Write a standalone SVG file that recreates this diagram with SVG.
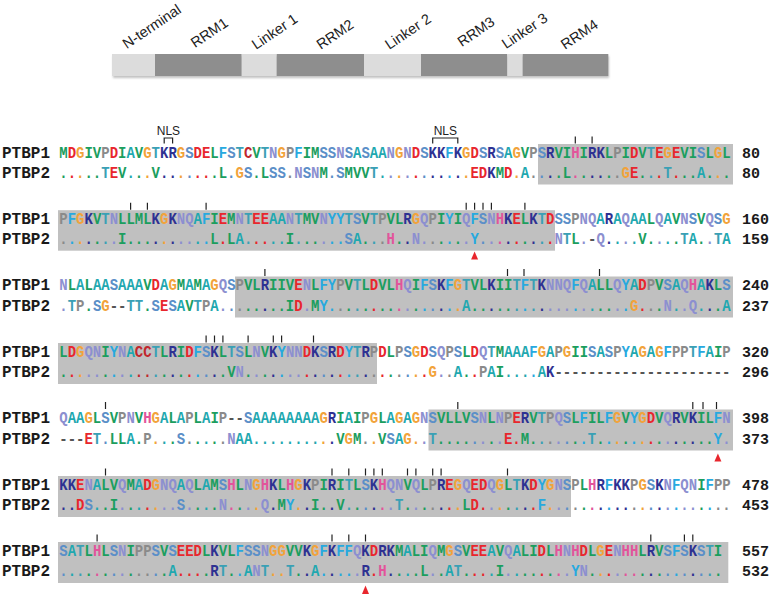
<svg xmlns="http://www.w3.org/2000/svg" width="770" height="595" viewBox="0 0 770 595">
<style>
.seq{font-family:"Liberation Mono","DejaVu Sans Mono",monospace;font-weight:700;font-size:17px}
.lab{font-family:"Liberation Mono","DejaVu Sans Mono",monospace;font-weight:700;font-size:16px;fill:#1a1a1a}
.num{font-family:"Liberation Mono","DejaVu Sans Mono",monospace;font-weight:700;font-size:15px;fill:#1a1a1a}
.dom{font-family:"Liberation Sans",Arial,sans-serif;font-size:14.5px;fill:#222}
.nls{font-family:"Liberation Sans",Arial,sans-serif;font-size:12px;fill:#222;text-anchor:middle}
.box{fill:#c0c0c0}
.tk{stroke:#222;stroke-width:1.2}
.br{fill:none;stroke:#222;stroke-width:1.2}
.ar{fill:#e8262d}
.lt{fill:#dcdcdc}.dk{fill:#8e8e8e}
.h{fill:#1b9e5e}.a{fill:#1fa8b0}.f{fill:#27a9df}.d{fill:#e8262d}.k{fill:#2e3192}.x{fill:#e2549b}.g{fill:#f2a33a}.p{fill:#8a8a8a}.s{fill:#5b8fc8}.t{fill:#3aa0b5}.n{fill:#8c8fd0}.c{fill:#c1272d}.m{fill:#555}
</style>
<defs><filter id="sh" x="-5%" y="-50%" width="110%" height="200%"><feGaussianBlur stdDeviation="1.2"/></filter></defs>

<g id="domain-bar">
<rect x="113" y="56" width="496" height="22" fill="#999" opacity="0.6" filter="url(#sh)"/>
<rect class="lt" x="112" y="54" width="43" height="22"/>
<rect class="dk" x="155" y="54" width="86.7" height="22"/>
<rect class="lt" x="241.7" y="54" width="35" height="22"/>
<rect class="dk" x="276.7" y="54" width="87.3" height="22"/>
<rect class="lt" x="364" y="54" width="57" height="22"/>
<rect class="dk" x="421" y="54" width="86.3" height="22"/>
<rect class="lt" x="507.3" y="54" width="15.4" height="22"/>
<rect class="dk" x="522.7" y="54" width="85.6" height="22"/>
<text class="dom" transform="translate(126.7,49.3) rotate(-34)">N-terminal</text>
<text class="dom" transform="translate(195,48.3) rotate(-34)">RRM1</text>
<text class="dom" transform="translate(256,50) rotate(-34)">Linker 1</text>
<text class="dom" transform="translate(320.7,50) rotate(-34)">RRM2</text>
<text class="dom" transform="translate(389.3,50) rotate(-34)">Linker 2</text>
<text class="dom" transform="translate(461.7,47.3) rotate(-34)">RRM3</text>
<text class="dom" transform="translate(506,49.3) rotate(-34)">Linker 3</text>
<text class="dom" transform="translate(565,50) rotate(-34)">RRM4</text>
</g>

<g id="boxes">
<rect class="box" x="538" y="144" width="195" height="40.5"/>
<rect class="box" x="58" y="210.2" width="497" height="40.5"/>
<rect class="box" x="235" y="276.5" width="498" height="41"/>
<rect class="box" x="58" y="343" width="319" height="41"/>
<rect class="box" x="428.5" y="409.5" width="304.5" height="41"/>
<rect class="box" x="58" y="476" width="513" height="41"/>
<rect class="box" x="58" y="542" width="670.3" height="41"/>
</g>

<g id="connectors">
<path class="br" d="M164.2,143.5V138H172.6V143.5"/>
<path class="br" d="M432.7,143.5V138H457.8V143.5"/>
<g class="tk">
<line x1="575.3" y1="136.5" x2="575.3" y2="143.5"/><line x1="592.1" y1="136.5" x2="592.1" y2="143.5"/>
<line x1="130.6" y1="202.7" x2="130.6" y2="209.7"/><line x1="147.4" y1="202.7" x2="147.4" y2="209.7"/><line x1="206.1" y1="202.7" x2="206.1" y2="209.7"/><line x1="466.2" y1="202.7" x2="466.2" y2="209.7"/><line x1="474.6" y1="202.7" x2="474.6" y2="209.7"/><line x1="483" y1="202.7" x2="483" y2="209.7"/><line x1="491.4" y1="202.7" x2="491.4" y2="209.7"/><line x1="524.9" y1="202.7" x2="524.9" y2="209.7"/>
<line x1="264.9" y1="269" x2="264.9" y2="276"/><line x1="507.5" y1="269" x2="507.5" y2="276"/><line x1="524" y1="269" x2="524" y2="276"/><line x1="599.5" y1="269" x2="599.5" y2="276"/>
<line x1="206.1" y1="335.5" x2="206.1" y2="342.5"/><line x1="214.5" y1="335.5" x2="214.5" y2="342.5"/><line x1="222.9" y1="335.5" x2="222.9" y2="342.5"/><line x1="248.1" y1="335.5" x2="248.1" y2="342.5"/><line x1="273.3" y1="335.5" x2="273.3" y2="342.5"/><line x1="281.6" y1="335.5" x2="281.6" y2="342.5"/><line x1="313.5" y1="335.5" x2="313.5" y2="342.5"/>
<line x1="105.5" y1="402" x2="105.5" y2="409"/><line x1="457.8" y1="402" x2="457.8" y2="409"/><line x1="692.8" y1="402" x2="692.8" y2="409"/><line x1="703" y1="402" x2="703" y2="409"/><line x1="716.5" y1="402" x2="716.5" y2="409"/>
<line x1="105.5" y1="468.5" x2="105.5" y2="475.5"/><line x1="332" y1="468.5" x2="332" y2="475.5"/><line x1="348.8" y1="468.5" x2="348.8" y2="475.5"/><line x1="365.5" y1="468.5" x2="365.5" y2="475.5"/><line x1="373.9" y1="468.5" x2="373.9" y2="475.5"/><line x1="382.3" y1="468.5" x2="382.3" y2="475.5"/><line x1="407.5" y1="468.5" x2="407.5" y2="475.5"/><line x1="415.9" y1="468.5" x2="415.9" y2="475.5"/><line x1="432.7" y1="468.5" x2="432.7" y2="475.5"/><line x1="441.1" y1="468.5" x2="441.1" y2="475.5"/><line x1="507.5" y1="468.5" x2="507.5" y2="475.5"/>
<line x1="97.1" y1="534.5" x2="97.1" y2="541.5"/><line x1="332" y1="534.5" x2="332" y2="541.5"/><line x1="348.8" y1="534.5" x2="348.8" y2="541.5"/><line x1="365.5" y1="534.5" x2="365.5" y2="541.5"/><line x1="650.8" y1="534.5" x2="650.8" y2="541.5"/><line x1="684.4" y1="534.5" x2="684.4" y2="541.5"/><line x1="692.8" y1="534.5" x2="692.8" y2="541.5"/>
</g>
<path class="ar" d="M474.6,251.5L478.1,259.5H471.1Z"/>
<path class="ar" d="M717.9,453.5L721.4,461.5H714.4Z"/>
<path class="ar" d="M365.5,585.5L369,594H362Z"/>
</g>

<g id="nls-labels">
<text class="nls" x="168.4" y="135">NLS</text>
<text class="nls" x="445.3" y="135">NLS</text>
</g>

<g id="labels">
<text class="lab" x="2" y="157.5">PTBP1</text><text class="lab" x="2" y="178">PTBP2</text>
<text class="lab" x="2" y="223.7">PTBP1</text><text class="lab" x="2" y="244.2">PTBP2</text>
<text class="lab" x="2" y="290">PTBP1</text><text class="lab" x="2" y="310.5">PTBP2</text>
<text class="lab" x="2" y="356.5">PTBP1</text><text class="lab" x="2" y="377">PTBP2</text>
<text class="lab" x="2" y="423">PTBP1</text><text class="lab" x="2" y="443.5">PTBP2</text>
<text class="lab" x="2" y="489.5">PTBP1</text><text class="lab" x="2" y="510">PTBP2</text>
<text class="lab" x="2" y="555.5">PTBP1</text><text class="lab" x="2" y="576">PTBP2</text>
</g>

<g id="numbers">
<text class="num" x="742" y="157.5">80</text><text class="num" x="742" y="178">80</text>
<text class="num" x="742" y="223.7">160</text><text class="num" x="742" y="244.2">159</text>
<text class="num" x="742" y="290">240</text><text class="num" x="742" y="310.5">237</text>
<text class="num" x="742" y="356.5">320</text><text class="num" x="742" y="377">296</text>
<text class="num" x="742" y="423">398</text><text class="num" x="742" y="443.5">373</text>
<text class="num" x="742" y="489.5">478</text><text class="num" x="742" y="510">453</text>
<text class="num" x="742" y="555.5">557</text><text class="num" x="742" y="576">532</text>
</g>

<g id="sequences">
<text class="seq" transform="translate(59.3,157.5) scale(0.8225,1)"><tspan class="h">M</tspan><tspan class="d">D</tspan><tspan class="g">G</tspan><tspan class="h">IV</tspan><tspan class="p">P</tspan><tspan class="d">D</tspan><tspan class="h">I</tspan><tspan class="a">A</tspan><tspan class="h">V</tspan><tspan class="g">G</tspan><tspan class="t">T</tspan><tspan class="k">KR</tspan><tspan class="g">G</tspan><tspan class="s">S</tspan><tspan class="d">DE</tspan><tspan class="h">L</tspan><tspan class="f">F</tspan><tspan class="s">S</tspan><tspan class="t">T</tspan><tspan class="c">C</tspan><tspan class="h">V</tspan><tspan class="t">T</tspan><tspan class="n">N</tspan><tspan class="g">G</tspan><tspan class="p">P</tspan><tspan class="f">F</tspan><tspan class="h">IM</tspan><tspan class="s">SS</tspan><tspan class="n">N</tspan><tspan class="s">S</tspan><tspan class="a">A</tspan><tspan class="s">S</tspan><tspan class="a">AA</tspan><tspan class="n">N</tspan><tspan class="g">G</tspan><tspan class="n">N</tspan><tspan class="d">D</tspan><tspan class="s">S</tspan><tspan class="k">KK</tspan><tspan class="f">F</tspan><tspan class="k">K</tspan><tspan class="g">G</tspan><tspan class="d">D</tspan><tspan class="s">S</tspan><tspan class="k">R</tspan><tspan class="s">S</tspan><tspan class="a">A</tspan><tspan class="g">G</tspan><tspan class="h">V</tspan><tspan class="p">P</tspan><tspan class="s">S</tspan><tspan class="k">R</tspan><tspan class="h">VI</tspan><tspan class="x">H</tspan><tspan class="h">I</tspan><tspan class="k">RK</tspan><tspan class="h">L</tspan><tspan class="p">P</tspan><tspan class="h">I</tspan><tspan class="d">D</tspan><tspan class="h">V</tspan><tspan class="t">T</tspan><tspan class="d">E</tspan><tspan class="g">G</tspan><tspan class="d">E</tspan><tspan class="h">VI</tspan><tspan class="s">S</tspan><tspan class="h">L</tspan><tspan class="g">G</tspan><tspan class="h">L</tspan></text>
<text class="seq" transform="translate(59.3,178) scale(0.8225,1)"><tspan class="h">.</tspan><tspan class="d">.</tspan><tspan class="g">.</tspan><tspan class="h">..</tspan><tspan class="t">T</tspan><tspan class="d">E</tspan><tspan class="h">V</tspan><tspan class="a">.</tspan><tspan class="h">.</tspan><tspan class="g">.</tspan><tspan class="h">V</tspan><tspan class="k">..</tspan><tspan class="g">.</tspan><tspan class="s">.</tspan><tspan class="d">..</tspan><tspan class="h">.L</tspan><tspan class="s">.</tspan><tspan class="g">G</tspan><tspan class="s">S</tspan><tspan class="h">.L</tspan><tspan class="s">SS</tspan><tspan class="p">.</tspan><tspan class="n">N</tspan><tspan class="s">S</tspan><tspan class="n">N</tspan><tspan class="h">M</tspan><tspan class="s">.S</tspan><tspan class="h">MVV</tspan><tspan class="t">T</tspan><tspan class="a">.</tspan><tspan class="n">.</tspan><tspan class="g">.</tspan><tspan class="n">.</tspan><tspan class="d">.</tspan><tspan class="s">.</tspan><tspan class="k">..</tspan><tspan class="f">.</tspan><tspan class="k">.</tspan><tspan class="g">.</tspan><tspan class="d">ED</tspan><tspan class="k">K</tspan><tspan class="h">M</tspan><tspan class="d">D</tspan><tspan class="g">.</tspan><tspan class="a">A</tspan><tspan class="p">.</tspan><tspan class="s">.</tspan><tspan class="k">.</tspan><tspan class="h">.L</tspan><tspan class="x">.</tspan><tspan class="h">.</tspan><tspan class="k">..</tspan><tspan class="h">.</tspan><tspan class="p">.</tspan><tspan class="g">G</tspan><tspan class="d">E</tspan><tspan class="h">.</tspan><tspan class="t">.</tspan><tspan class="d">.</tspan><tspan class="t">T</tspan><tspan class="d">.</tspan><tspan class="h">..</tspan><tspan class="a">A</tspan><tspan class="h">.</tspan><tspan class="g">.</tspan><tspan class="h">.</tspan></text>

<text class="seq" transform="translate(59.3,223.7) scale(0.8225,1)"><tspan class="p">P</tspan><tspan class="f">F</tspan><tspan class="g">G</tspan><tspan class="k">K</tspan><tspan class="h">V</tspan><tspan class="t">T</tspan><tspan class="n">N</tspan><tspan class="h">LLML</tspan><tspan class="k">K</tspan><tspan class="g">G</tspan><tspan class="k">K</tspan><tspan class="n">NQ</tspan><tspan class="a">A</tspan><tspan class="f">F</tspan><tspan class="h">I</tspan><tspan class="d">E</tspan><tspan class="h">M</tspan><tspan class="n">N</tspan><tspan class="t">T</tspan><tspan class="d">EE</tspan><tspan class="a">AA</tspan><tspan class="n">N</tspan><tspan class="t">T</tspan><tspan class="h">MV</tspan><tspan class="n">N</tspan><tspan class="f">YY</tspan><tspan class="t">T</tspan><tspan class="s">S</tspan><tspan class="h">V</tspan><tspan class="t">T</tspan><tspan class="p">P</tspan><tspan class="h">VL</tspan><tspan class="k">R</tspan><tspan class="g">G</tspan><tspan class="n">Q</tspan><tspan class="p">P</tspan><tspan class="h">I</tspan><tspan class="f">Y</tspan><tspan class="h">I</tspan><tspan class="n">Q</tspan><tspan class="f">F</tspan><tspan class="s">S</tspan><tspan class="n">N</tspan><tspan class="x">H</tspan><tspan class="k">K</tspan><tspan class="d">E</tspan><tspan class="h">L</tspan><tspan class="k">K</tspan><tspan class="t">T</tspan><tspan class="d">D</tspan><tspan class="s">SS</tspan><tspan class="p">P</tspan><tspan class="n">NQ</tspan><tspan class="a">A</tspan><tspan class="k">R</tspan><tspan class="a">A</tspan><tspan class="n">Q</tspan><tspan class="a">AA</tspan><tspan class="h">L</tspan><tspan class="n">Q</tspan><tspan class="a">A</tspan><tspan class="h">V</tspan><tspan class="n">N</tspan><tspan class="s">S</tspan><tspan class="h">V</tspan><tspan class="n">Q</tspan><tspan class="s">S</tspan><tspan class="g">G</tspan></text>
<text class="seq" transform="translate(59.3,244.2) scale(0.8225,1)"><tspan class="p">.</tspan><tspan class="f">.</tspan><tspan class="g">.</tspan><tspan class="k">.</tspan><tspan class="h">.</tspan><tspan class="t">.</tspan><tspan class="n">.</tspan><tspan class="h">I...</tspan><tspan class="k">.</tspan><tspan class="g">.</tspan><tspan class="k">.</tspan><tspan class="n">..</tspan><tspan class="a">.</tspan><tspan class="f">.</tspan><tspan class="h">L</tspan><tspan class="d">.</tspan><tspan class="h">L</tspan><tspan class="a">A</tspan><tspan class="t">.</tspan><tspan class="d">..</tspan><tspan class="a">..</tspan><tspan class="h">I</tspan><tspan class="t">.</tspan><tspan class="h">..</tspan><tspan class="n">.</tspan><tspan class="f">..</tspan><tspan class="s">S</tspan><tspan class="a">A</tspan><tspan class="h">.</tspan><tspan class="t">.</tspan><tspan class="p">.</tspan><tspan class="x">H</tspan><tspan class="h">.</tspan><tspan class="k">.</tspan><tspan class="n">N.</tspan><tspan class="p">.</tspan><tspan class="h">.</tspan><tspan class="f">.</tspan><tspan class="h">.</tspan><tspan class="n">.</tspan><tspan class="f">Y</tspan><tspan class="s">.</tspan><tspan class="n">.</tspan><tspan class="x">.</tspan><tspan class="k">.</tspan><tspan class="d">.</tspan><tspan class="h">.</tspan><tspan class="k">.</tspan><tspan class="t">.</tspan><tspan class="d">.</tspan><tspan class="n">N</tspan><tspan class="t">T</tspan><tspan class="h">L</tspan><tspan class="n">.</tspan><tspan class="m">-</tspan><tspan class="n">Q</tspan><tspan class="k">.</tspan><tspan class="a">.</tspan><tspan class="n">.</tspan><tspan class="a">.</tspan><tspan class="h">V.</tspan><tspan class="n">.</tspan><tspan class="a">.</tspan><tspan class="h">.</tspan><tspan class="t">T</tspan><tspan class="a">A</tspan><tspan class="h">.</tspan><tspan class="n">.</tspan><tspan class="t">T</tspan><tspan class="a">A</tspan></text>

<text class="seq" transform="translate(59.3,290) scale(0.8225,1)"><tspan class="n">N</tspan><tspan class="h">L</tspan><tspan class="a">A</tspan><tspan class="h">L</tspan><tspan class="a">AA</tspan><tspan class="s">S</tspan><tspan class="a">AAA</tspan><tspan class="h">V</tspan><tspan class="d">D</tspan><tspan class="a">A</tspan><tspan class="g">G</tspan><tspan class="h">M</tspan><tspan class="a">A</tspan><tspan class="h">M</tspan><tspan class="a">A</tspan><tspan class="g">G</tspan><tspan class="n">Q</tspan><tspan class="s">S</tspan><tspan class="p">P</tspan><tspan class="h">VL</tspan><tspan class="k">R</tspan><tspan class="h">IIV</tspan><tspan class="d">E</tspan><tspan class="n">N</tspan><tspan class="h">L</tspan><tspan class="f">FY</tspan><tspan class="p">P</tspan><tspan class="h">V</tspan><tspan class="t">T</tspan><tspan class="h">L</tspan><tspan class="d">D</tspan><tspan class="h">VL</tspan><tspan class="x">H</tspan><tspan class="n">Q</tspan><tspan class="h">I</tspan><tspan class="f">F</tspan><tspan class="s">S</tspan><tspan class="k">K</tspan><tspan class="f">F</tspan><tspan class="g">G</tspan><tspan class="t">T</tspan><tspan class="h">VL</tspan><tspan class="k">K</tspan><tspan class="h">II</tspan><tspan class="t">T</tspan><tspan class="f">F</tspan><tspan class="t">T</tspan><tspan class="k">K</tspan><tspan class="n">NNQ</tspan><tspan class="f">F</tspan><tspan class="n">Q</tspan><tspan class="a">A</tspan><tspan class="h">LL</tspan><tspan class="n">Q</tspan><tspan class="f">Y</tspan><tspan class="a">A</tspan><tspan class="d">D</tspan><tspan class="p">P</tspan><tspan class="h">V</tspan><tspan class="s">S</tspan><tspan class="a">A</tspan><tspan class="n">Q</tspan><tspan class="x">H</tspan><tspan class="a">A</tspan><tspan class="k">K</tspan><tspan class="h">L</tspan><tspan class="s">S</tspan></text>
<text class="seq" transform="translate(59.3,310.5) scale(0.8225,1)"><tspan class="n">.</tspan><tspan class="t">T</tspan><tspan class="p">P</tspan><tspan class="h">.</tspan><tspan class="s">S</tspan><tspan class="g">G</tspan><tspan class="m">--</tspan><tspan class="t">TT</tspan><tspan class="h">.</tspan><tspan class="s">S</tspan><tspan class="d">E</tspan><tspan class="s">S</tspan><tspan class="a">A</tspan><tspan class="h">V</tspan><tspan class="t">T</tspan><tspan class="p">P</tspan><tspan class="a">A</tspan><tspan class="n">.</tspan><tspan class="s">.</tspan><tspan class="p">.</tspan><tspan class="h">..</tspan><tspan class="k">.</tspan><tspan class="h">..I</tspan><tspan class="d">D</tspan><tspan class="n">.</tspan><tspan class="h">M</tspan><tspan class="f">Y.</tspan><tspan class="p">.</tspan><tspan class="h">.</tspan><tspan class="t">.</tspan><tspan class="h">.</tspan><tspan class="d">.</tspan><tspan class="h">..</tspan><tspan class="x">.</tspan><tspan class="n">.</tspan><tspan class="h">.</tspan><tspan class="f">.</tspan><tspan class="s">.</tspan><tspan class="k">.</tspan><tspan class="f">.</tspan><tspan class="g">.</tspan><tspan class="a">A</tspan><tspan class="h">..</tspan><tspan class="k">.</tspan><tspan class="h">..</tspan><tspan class="t">.</tspan><tspan class="f">.</tspan><tspan class="t">.</tspan><tspan class="k">.</tspan><tspan class="n">...</tspan><tspan class="f">.</tspan><tspan class="n">.</tspan><tspan class="a">.</tspan><tspan class="h">..</tspan><tspan class="n">.</tspan><tspan class="f">.</tspan><tspan class="g">G</tspan><tspan class="d">.</tspan><tspan class="p">.</tspan><tspan class="h">.</tspan><tspan class="n">N</tspan><tspan class="a">.</tspan><tspan class="n">.Q</tspan><tspan class="a">.</tspan><tspan class="k">.</tspan><tspan class="h">.</tspan><tspan class="a">A</tspan></text>

<text class="seq" transform="translate(59.3,356.5) scale(0.8225,1)"><tspan class="h">L</tspan><tspan class="d">D</tspan><tspan class="g">G</tspan><tspan class="n">QN</tspan><tspan class="h">I</tspan><tspan class="f">Y</tspan><tspan class="n">N</tspan><tspan class="a">A</tspan><tspan class="c">CC</tspan><tspan class="t">T</tspan><tspan class="h">L</tspan><tspan class="k">R</tspan><tspan class="h">I</tspan><tspan class="d">D</tspan><tspan class="f">F</tspan><tspan class="s">S</tspan><tspan class="k">K</tspan><tspan class="h">L</tspan><tspan class="t">T</tspan><tspan class="s">S</tspan><tspan class="h">L</tspan><tspan class="n">N</tspan><tspan class="h">V</tspan><tspan class="k">K</tspan><tspan class="f">Y</tspan><tspan class="n">NN</tspan><tspan class="d">D</tspan><tspan class="k">K</tspan><tspan class="s">S</tspan><tspan class="k">R</tspan><tspan class="d">D</tspan><tspan class="f">Y</tspan><tspan class="t">T</tspan><tspan class="k">R</tspan><tspan class="p">P</tspan><tspan class="d">D</tspan><tspan class="h">L</tspan><tspan class="p">P</tspan><tspan class="s">S</tspan><tspan class="g">G</tspan><tspan class="d">D</tspan><tspan class="s">S</tspan><tspan class="n">Q</tspan><tspan class="p">P</tspan><tspan class="s">S</tspan><tspan class="h">L</tspan><tspan class="d">D</tspan><tspan class="n">Q</tspan><tspan class="t">T</tspan><tspan class="h">M</tspan><tspan class="a">AAA</tspan><tspan class="f">F</tspan><tspan class="g">G</tspan><tspan class="a">A</tspan><tspan class="p">P</tspan><tspan class="g">G</tspan><tspan class="h">II</tspan><tspan class="s">S</tspan><tspan class="a">A</tspan><tspan class="s">S</tspan><tspan class="p">P</tspan><tspan class="f">Y</tspan><tspan class="a">A</tspan><tspan class="g">G</tspan><tspan class="a">A</tspan><tspan class="g">G</tspan><tspan class="f">F</tspan><tspan class="p">PP</tspan><tspan class="t">T</tspan><tspan class="f">F</tspan><tspan class="a">A</tspan><tspan class="h">I</tspan><tspan class="p">P</tspan></text>
<text class="seq" transform="translate(59.3,377) scale(0.8225,1)"><tspan class="h">.</tspan><tspan class="d">.</tspan><tspan class="g">.</tspan><tspan class="n">..</tspan><tspan class="h">.</tspan><tspan class="f">.</tspan><tspan class="n">.</tspan><tspan class="a">.</tspan><tspan class="c">..</tspan><tspan class="t">.</tspan><tspan class="h">.</tspan><tspan class="k">.</tspan><tspan class="h">.</tspan><tspan class="d">.</tspan><tspan class="f">.</tspan><tspan class="s">.</tspan><tspan class="k">.</tspan><tspan class="h">.V</tspan><tspan class="n">N</tspan><tspan class="h">.</tspan><tspan class="n">.</tspan><tspan class="h">.</tspan><tspan class="k">.</tspan><tspan class="f">.</tspan><tspan class="n">..</tspan><tspan class="d">.</tspan><tspan class="k">.</tspan><tspan class="s">.</tspan><tspan class="k">.</tspan><tspan class="d">.</tspan><tspan class="f">.</tspan><tspan class="t">.</tspan><tspan class="k">.</tspan><tspan class="p">.</tspan><tspan class="d">.</tspan><tspan class="h">.</tspan><tspan class="p">.</tspan><tspan class="s">.</tspan><tspan class="g">.</tspan><tspan class="d">.</tspan><tspan class="g">G</tspan><tspan class="n">.</tspan><tspan class="p">.</tspan><tspan class="a">A</tspan><tspan class="h">.</tspan><tspan class="d">.</tspan><tspan class="p">P</tspan><tspan class="a">A</tspan><tspan class="h">I</tspan><tspan class="a">...</tspan><tspan class="f">.</tspan><tspan class="a">A</tspan><tspan class="k">K</tspan><tspan class="m">---------------------</tspan></text>

<text class="seq" transform="translate(59.3,423) scale(0.8225,1)"><tspan class="n">Q</tspan><tspan class="a">AA</tspan><tspan class="g">G</tspan><tspan class="h">L</tspan><tspan class="s">S</tspan><tspan class="h">V</tspan><tspan class="p">P</tspan><tspan class="n">N</tspan><tspan class="h">V</tspan><tspan class="x">H</tspan><tspan class="g">G</tspan><tspan class="a">A</tspan><tspan class="h">L</tspan><tspan class="a">A</tspan><tspan class="p">P</tspan><tspan class="h">L</tspan><tspan class="a">A</tspan><tspan class="h">I</tspan><tspan class="p">P</tspan><tspan class="m">--</tspan><tspan class="s">S</tspan><tspan class="a">AAAAAAAA</tspan><tspan class="g">G</tspan><tspan class="k">R</tspan><tspan class="h">I</tspan><tspan class="a">A</tspan><tspan class="h">I</tspan><tspan class="p">P</tspan><tspan class="g">G</tspan><tspan class="h">L</tspan><tspan class="a">A</tspan><tspan class="g">G</tspan><tspan class="a">A</tspan><tspan class="g">G</tspan><tspan class="n">N</tspan><tspan class="s">S</tspan><tspan class="h">VLLV</tspan><tspan class="s">S</tspan><tspan class="n">N</tspan><tspan class="h">L</tspan><tspan class="n">N</tspan><tspan class="p">P</tspan><tspan class="d">E</tspan><tspan class="k">R</tspan><tspan class="h">V</tspan><tspan class="t">T</tspan><tspan class="p">P</tspan><tspan class="n">Q</tspan><tspan class="s">S</tspan><tspan class="h">L</tspan><tspan class="f">F</tspan><tspan class="h">IL</tspan><tspan class="f">F</tspan><tspan class="g">G</tspan><tspan class="h">V</tspan><tspan class="f">Y</tspan><tspan class="g">G</tspan><tspan class="d">D</tspan><tspan class="h">V</tspan><tspan class="n">Q</tspan><tspan class="k">R</tspan><tspan class="h">V</tspan><tspan class="k">K</tspan><tspan class="h">IL</tspan><tspan class="f">F</tspan><tspan class="n">N</tspan></text>
<text class="seq" transform="translate(59.3,443.5) scale(0.8225,1)"><tspan class="m">---</tspan><tspan class="d">E</tspan><tspan class="t">T</tspan><tspan class="s">.</tspan><tspan class="h">LL</tspan><tspan class="a">A</tspan><tspan class="h">.</tspan><tspan class="p">P</tspan><tspan class="g">.</tspan><tspan class="a">.</tspan><tspan class="h">.</tspan><tspan class="s">S</tspan><tspan class="p">.</tspan><tspan class="h">.</tspan><tspan class="a">.</tspan><tspan class="h">.</tspan><tspan class="p">.</tspan><tspan class="n">N</tspan><tspan class="a">AA........</tspan><tspan class="g">.</tspan><tspan class="k">.</tspan><tspan class="h">V</tspan><tspan class="g">G</tspan><tspan class="h">M</tspan><tspan class="p">.</tspan><tspan class="g">.</tspan><tspan class="h">V</tspan><tspan class="s">S</tspan><tspan class="a">A</tspan><tspan class="g">G.</tspan><tspan class="n">.</tspan><tspan class="t">T</tspan><tspan class="h">....</tspan><tspan class="s">.</tspan><tspan class="n">.</tspan><tspan class="h">.</tspan><tspan class="n">.</tspan><tspan class="d">E.</tspan><tspan class="h">M.</tspan><tspan class="t">.</tspan><tspan class="p">.</tspan><tspan class="n">.</tspan><tspan class="s">.</tspan><tspan class="h">.</tspan><tspan class="f">.</tspan><tspan class="t">T</tspan><tspan class="h">.</tspan><tspan class="f">.</tspan><tspan class="g">.</tspan><tspan class="h">.</tspan><tspan class="f">.</tspan><tspan class="g">.</tspan><tspan class="d">.</tspan><tspan class="h">.</tspan><tspan class="n">.</tspan><tspan class="k">.</tspan><tspan class="h">.</tspan><tspan class="k">.</tspan><tspan class="h">..</tspan><tspan class="f">Y</tspan><tspan class="n">.</tspan></text>

<text class="seq" transform="translate(59.3,489.5) scale(0.8225,1)"><tspan class="k">KK</tspan><tspan class="d">E</tspan><tspan class="n">N</tspan><tspan class="a">A</tspan><tspan class="h">LV</tspan><tspan class="n">Q</tspan><tspan class="h">M</tspan><tspan class="a">A</tspan><tspan class="d">D</tspan><tspan class="g">G</tspan><tspan class="n">NQ</tspan><tspan class="a">A</tspan><tspan class="n">Q</tspan><tspan class="h">L</tspan><tspan class="a">A</tspan><tspan class="h">M</tspan><tspan class="s">S</tspan><tspan class="x">H</tspan><tspan class="h">L</tspan><tspan class="n">N</tspan><tspan class="g">G</tspan><tspan class="x">H</tspan><tspan class="k">K</tspan><tspan class="h">L</tspan><tspan class="x">H</tspan><tspan class="g">G</tspan><tspan class="k">K</tspan><tspan class="p">P</tspan><tspan class="h">I</tspan><tspan class="k">R</tspan><tspan class="h">I</tspan><tspan class="t">T</tspan><tspan class="h">L</tspan><tspan class="s">S</tspan><tspan class="k">K</tspan><tspan class="x">H</tspan><tspan class="n">QN</tspan><tspan class="h">V</tspan><tspan class="n">Q</tspan><tspan class="h">L</tspan><tspan class="p">P</tspan><tspan class="k">R</tspan><tspan class="d">E</tspan><tspan class="g">G</tspan><tspan class="n">Q</tspan><tspan class="d">ED</tspan><tspan class="n">Q</tspan><tspan class="g">G</tspan><tspan class="h">L</tspan><tspan class="t">T</tspan><tspan class="k">K</tspan><tspan class="d">D</tspan><tspan class="f">Y</tspan><tspan class="g">G</tspan><tspan class="n">N</tspan><tspan class="s">S</tspan><tspan class="p">P</tspan><tspan class="h">L</tspan><tspan class="x">H</tspan><tspan class="k">R</tspan><tspan class="f">F</tspan><tspan class="k">KK</tspan><tspan class="p">P</tspan><tspan class="g">G</tspan><tspan class="s">S</tspan><tspan class="k">K</tspan><tspan class="n">N</tspan><tspan class="f">F</tspan><tspan class="n">QN</tspan><tspan class="h">I</tspan><tspan class="f">F</tspan><tspan class="p">PP</tspan></text>
<text class="seq" transform="translate(59.3,510) scale(0.8225,1)"><tspan class="k">..</tspan><tspan class="d">D</tspan><tspan class="s">S</tspan><tspan class="a">.</tspan><tspan class="h">.I</tspan><tspan class="n">.</tspan><tspan class="h">.</tspan><tspan class="a">.</tspan><tspan class="d">.</tspan><tspan class="g">.</tspan><tspan class="n">..</tspan><tspan class="s">S</tspan><tspan class="n">.</tspan><tspan class="h">.</tspan><tspan class="a">.</tspan><tspan class="h">.</tspan><tspan class="n">N</tspan><tspan class="x">.</tspan><tspan class="h">.</tspan><tspan class="n">.</tspan><tspan class="g">.</tspan><tspan class="n">Q</tspan><tspan class="k">.</tspan><tspan class="h">M</tspan><tspan class="f">Y</tspan><tspan class="g">.</tspan><tspan class="k">.</tspan><tspan class="h">I.</tspan><tspan class="k">.</tspan><tspan class="h">V</tspan><tspan class="t">.</tspan><tspan class="h">.</tspan><tspan class="s">.</tspan><tspan class="k">.</tspan><tspan class="x">.</tspan><tspan class="n">.</tspan><tspan class="t">T</tspan><tspan class="h">.</tspan><tspan class="n">.</tspan><tspan class="h">.</tspan><tspan class="p">.</tspan><tspan class="k">.</tspan><tspan class="d">.</tspan><tspan class="g">.</tspan><tspan class="h">L</tspan><tspan class="d">D.</tspan><tspan class="n">.</tspan><tspan class="g">.</tspan><tspan class="h">.</tspan><tspan class="t">.</tspan><tspan class="k">.</tspan><tspan class="d">.</tspan><tspan class="f">F</tspan><tspan class="g">.</tspan><tspan class="n">.</tspan><tspan class="s">.</tspan><tspan class="p">.</tspan><tspan class="h">.</tspan><tspan class="x">.</tspan><tspan class="k">.</tspan><tspan class="f">.</tspan><tspan class="k">..</tspan><tspan class="p">.</tspan><tspan class="g">.</tspan><tspan class="s">.</tspan><tspan class="k">.</tspan><tspan class="n">.</tspan><tspan class="f">.</tspan><tspan class="n">..</tspan><tspan class="h">.</tspan><tspan class="f">.</tspan><tspan class="p">..</tspan></text>

<text class="seq" transform="translate(59.3,555.5) scale(0.8225,1)"><tspan class="s">S</tspan><tspan class="a">A</tspan><tspan class="t">T</tspan><tspan class="h">L</tspan><tspan class="x">H</tspan><tspan class="h">L</tspan><tspan class="s">S</tspan><tspan class="n">N</tspan><tspan class="h">I</tspan><tspan class="p">PP</tspan><tspan class="s">S</tspan><tspan class="h">V</tspan><tspan class="s">S</tspan><tspan class="d">EED</tspan><tspan class="h">L</tspan><tspan class="k">K</tspan><tspan class="h">VL</tspan><tspan class="f">F</tspan><tspan class="s">SS</tspan><tspan class="n">N</tspan><tspan class="g">GG</tspan><tspan class="h">VV</tspan><tspan class="k">K</tspan><tspan class="g">G</tspan><tspan class="f">F</tspan><tspan class="k">K</tspan><tspan class="f">FF</tspan><tspan class="n">Q</tspan><tspan class="k">K</tspan><tspan class="d">D</tspan><tspan class="k">RK</tspan><tspan class="h">M</tspan><tspan class="a">A</tspan><tspan class="h">LI</tspan><tspan class="n">Q</tspan><tspan class="h">M</tspan><tspan class="g">G</tspan><tspan class="s">S</tspan><tspan class="h">V</tspan><tspan class="d">EE</tspan><tspan class="a">A</tspan><tspan class="h">V</tspan><tspan class="n">Q</tspan><tspan class="a">A</tspan><tspan class="h">LI</tspan><tspan class="d">D</tspan><tspan class="h">L</tspan><tspan class="x">H</tspan><tspan class="n">N</tspan><tspan class="x">H</tspan><tspan class="d">D</tspan><tspan class="h">L</tspan><tspan class="g">G</tspan><tspan class="d">E</tspan><tspan class="n">N</tspan><tspan class="x">HH</tspan><tspan class="h">L</tspan><tspan class="k">R</tspan><tspan class="h">V</tspan><tspan class="s">S</tspan><tspan class="f">F</tspan><tspan class="s">S</tspan><tspan class="k">K</tspan><tspan class="s">S</tspan><tspan class="t">T</tspan><tspan class="h">I</tspan></text>
<text class="seq" transform="translate(59.3,576) scale(0.8225,1)"><tspan class="s">.</tspan><tspan class="a">.</tspan><tspan class="t">.</tspan><tspan class="h">.</tspan><tspan class="x">.</tspan><tspan class="h">.</tspan><tspan class="s">.</tspan><tspan class="n">.</tspan><tspan class="h">.</tspan><tspan class="p">..</tspan><tspan class="s">.</tspan><tspan class="h">.</tspan><tspan class="a">A</tspan><tspan class="d">...</tspan><tspan class="h">.</tspan><tspan class="k">R</tspan><tspan class="t">T</tspan><tspan class="h">.</tspan><tspan class="f">.</tspan><tspan class="a">A</tspan><tspan class="n">N</tspan><tspan class="t">T</tspan><tspan class="g">..</tspan><tspan class="t">T</tspan><tspan class="h">.</tspan><tspan class="k">.</tspan><tspan class="a">A</tspan><tspan class="f">.</tspan><tspan class="k">.</tspan><tspan class="f">..</tspan><tspan class="n">.</tspan><tspan class="k">R</tspan><tspan class="d">.</tspan><tspan class="x">H</tspan><tspan class="k">.</tspan><tspan class="h">.</tspan><tspan class="a">.</tspan><tspan class="h">.L</tspan><tspan class="n">.</tspan><tspan class="h">.</tspan><tspan class="a">A</tspan><tspan class="t">T</tspan><tspan class="h">.</tspan><tspan class="d">..</tspan><tspan class="a">.</tspan><tspan class="h">I</tspan><tspan class="n">.</tspan><tspan class="a">.</tspan><tspan class="h">..</tspan><tspan class="d">.</tspan><tspan class="h">.</tspan><tspan class="x">.</tspan><tspan class="n">.</tspan><tspan class="f">Y</tspan><tspan class="n">N</tspan><tspan class="h">.</tspan><tspan class="g">.</tspan><tspan class="d">.</tspan><tspan class="n">.</tspan><tspan class="x">..</tspan><tspan class="h">.</tspan><tspan class="k">.</tspan><tspan class="h">.</tspan><tspan class="s">.</tspan><tspan class="f">.</tspan><tspan class="s">.</tspan><tspan class="k">.</tspan><tspan class="s">.</tspan><tspan class="t">.</tspan><tspan class="h">.</tspan></text>
</g>
</svg>
